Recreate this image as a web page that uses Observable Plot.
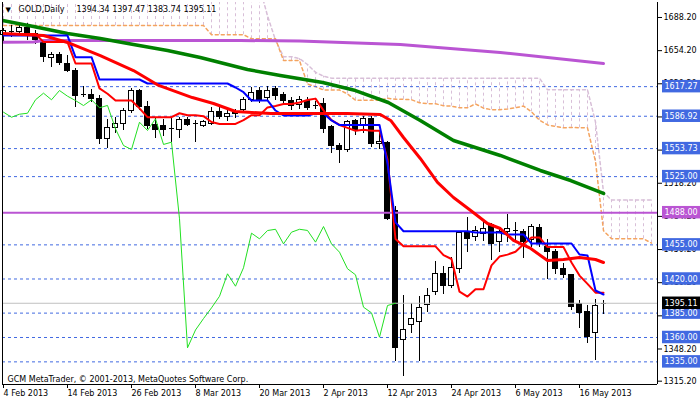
<!DOCTYPE html>
<html><head><meta charset="utf-8">
<script src="https://cdn.jsdelivr.net/npm/d3@7"></script>
<script src="https://cdn.jsdelivr.net/npm/@observablehq/plot@0.6"></script>
<style>html,body{margin:0;padding:0;background:#fff;}</style>
</head><body><div id="chart"></div>
<script>
// ---- axis labels ----
const tickBars=[0,8,16,24,32,40,48,56,64,72];
const tickLabels=["4 Feb 2013","14 Feb 2013","26 Feb 2013","8 Mar 2013","20 Mar 2013","2 Apr 2013","12 Apr 2013","24 Apr 2013","6 May 2013","16 May 2013"];
const priceTicks=[1688.2,1654.2,1620.2,1586.2,1552.2,1518.2,1484.2,1450.2,1416.2,1382.2,1348.2,1315.2];
// ---- daily candles (bar index 0 = 4 Feb 2013) ----
const open=[1670,1674,1673,1677,1671,1662.9,1646.9,1650.2,1640.7,1633.8,
1608.5,1609.2,1604.1,1563.1,1575.1,1579.2,1591.8,1612.6,1596.9,1578.4,
1577.4,1573.5,1573,1583.3,1579.8,1576.7,1579.2,1591.1,1586,1589,
1593,1603.8,1612.6,1605.8,1614.4,1608.2,1603,1598.6,1603,1597.5,
1599,1575.7,1556.9,1552.5,1581.8,1577.4,1584.3,1558,1559.3,1490,
1357.4,1373.3,1376.4,1393.8,1406.5,1425.3,1412.6,1430.5,1467,1463.5,
1466,1475,1457.8,1468,1469.5,1468,1459.5,1472.8,1452.6,1447.5,
1430.5,1424.6,1394.6,1386,1364.8,1394.34];
const high=[1677,1680,1681,1682,1675,1666,1652.6,1652.6,1649.2,1635.6,
1617.4,1614.4,1608.2,1583.6,1585.9,1595.2,1615,1614,1602,1584.3,
1583.3,1584.3,1586,1586,1582.6,1582.6,1596.2,1596.9,1593,1594,
1606,1616,1616,1617,1617.5,1611,1606,1607,1606,1602,
1605,1577.4,1559.2,1582.6,1584,1586.9,1587,1569,1561,1494,
1403,1394.9,1402,1409.9,1437.9,1432.8,1442.4,1468,1483.4,1473.4,
1478,1477,1471.8,1486.2,1478.2,1470.7,1475.9,1475.9,1460.2,1450.2,
1436,1425,1397.9,1392.8,1398.7,1397.47];
const low=[1664,1668,1669,1665,1660,1642.4,1637.2,1639,1632.1,1596.2,
1606.5,1601,1557.6,1553.5,1568.9,1572.3,1589.4,1593,1573,1563.8,
1566,1560.3,1563.8,1576.4,1560.3,1575,1577.4,1583.3,1582,1585,
1590,1601,1600,1603,1603,1598,1593,1594,1593,1594,
1569,1548.2,1538.7,1550,1567,1568.9,1554.6,1553,1480,1335.7,
1320,1364.4,1335.7,1385.3,1403,1403.8,1410,1425.3,1447.5,1458,
1458,1439,1447.5,1457,1459.5,1441,1452.6,1452.6,1419.2,1424.6,
1420.5,1387.7,1368.9,1354.2,1336.4,1383.74];
const close=[1674,1673.5,1677,1671,1665,1647.5,1650.2,1641.7,1633.8,1607.2,
1608.9,1604.1,1563.8,1575.1,1579.2,1592.1,1612.6,1596.9,1577.4,1573.3,
1572.3,1574,1582.6,1578.2,1579.4,1580.8,1591.1,1585.9,1589,1590,
1603.8,1610.6,1603.8,1613.3,1607.5,1603,1597.9,1603.8,1595.6,1598,
1574,1556.9,1552.8,1580.8,1572.3,1584.3,1558,1560.3,1481.7,1349.4,
1367.7,1379.4,1390.4,1402.3,1425.3,1412.6,1431.5,1467,1461.2,1469.7,
1471,1456,1468,1471,1469.8,1457.8,1473.8,1456,1447.5,1430.5,
1424.3,1391.1,1385.3,1360.3,1392.8,1395.11];
// ---- Ichimoku ----
const tenkan=[1671.3,1671.3,1671.3,1671.3,1671.3,1663,1663,1663,1663,1641,
1641,1641,1615.5,1610,1603,1603,1603,1595,1586,1586,
1586,1586,1590,1588,1588,1587,1581,1579,1579,1579,
1583,1588,1588,1596,1597.5,1599.5,1599.5,1601,1603.5,1605,
1593,1583,1578,1575,1572,1573,1572,1572,1542.5,1461,
1453.5,1453.5,1453.5,1453.5,1453.5,1444.5,1440.5,1407,1402,1409.5,
1409.5,1434,1443,1445,1448,1455.7,1462.6,1462.6,1452.7,1452.7,
1452.7,1437,1423.5,1415,1406,1406];
const kijun=[1669.7,1669.7,1669.7,1669.7,1669.7,1669.7,1669.7,1669.7,1669.7,1647.5,
1647.5,1647.5,1624.6,1624.6,1624.6,1624.6,1624.6,1624.6,1620.5,1620.5,
1620.5,1620.5,1620.5,1620.5,1620.5,1620.5,1620.5,1620.5,1620.5,1616.4,
1611.6,1603.1,1603.1,1603.1,1592.8,1587.7,1587.7,1587.7,1587.7,1589.7,
1589.7,1582.6,1577.9,1577.9,1577.9,1577.9,1577.9,1577.9,1538.4,1478,
1469,1469,1469,1469,1469,1469,1469,1469,1469,1467.7,
1467.7,1467.7,1467.7,1465.6,1465.6,1465.6,1456.4,1456.4,1456.4,1456.4,
1456.4,1456.4,1445.1,1444.1,1408.2,1404.1];
const spanA=[1680,1680,1680,1680,1680,1680,1680,1680,1680,1680,
1680,1680,1680,1680,1680,1680,1680,1680,1680,1680,
1680,1680,1680,1680,1680,1680,1670.5,1670.5,1670.5,1670.5,
1670.5,1666.4,1666.4,1666.4,1666.4,1644,1644,1644,1620,1617.3,
1613.8,1613.8,1613.8,1609.8,1603.3,1603.3,1603.3,1603.3,1605.3,1604.3,
1604.3,1603.8,1600.8,1599.8,1599.8,1597.7,1597.3,1595.6,1595.6,1599.6,
1595.2,1593.6,1593.6,1594.4,1595.6,1597.4,1591.4,1582.8,1578,1576.5,
1575,1575.5,1575,1575,1540.5,1469.5,1461.3,1461.3,1461.3,1461.3,
1461.3,1456.8];
const spanB=[1720,1720,1720,1720,1720,1720,1720,1720,1720,1720,
1720,1720,1720,1720,1720,1720,1720,1720,1720,1720,
1720,1720,1720,1720,1720,1720,1720,1720,1720,1720,
1720,1720,1720,1690,1665,1648,1648,1646,1640,1632,
1628,1626,1626,1626,1626,1626,1626,1626,1626,1626,
1626,1626,1626,1626,1626,1626,1626,1626,1626,1626,
1626,1626,1626,1626,1626,1626,1626,1626,1614,1614,
1614,1614,1614,1614,1581,1509,1501,1501,1501,1501,
1501,1501];
// ---- moving averages (bar position, price) ----
const maPurpleBar=[-0.125,3.75,5,29.6,37,49.6,62.1,75];
const maPurpleVal=[1662.9,1663.1,1664.6,1664.6,1664.1,1660.5,1652.3,1641.0];
const maGreenBar=[-0.125,3.75,8,12.1,16.25,20.5,24.6,30.5,34.6,39.9,44,48.1,52.1,56.25,62.1,67.1,70.9,75];
const maGreenVal=[1685.1,1679.0,1671.8,1666.7,1660.5,1654.4,1647.2,1634.9,1628.7,1621.5,1613.3,1601.0,1582.6,1562.0,1546.7,1531.3,1521.0,1507.7];
const maRedBar=[-0.125,5,8,12.1,16.25,19.4,23.6,26.25,29,33.4,38.75,43,47.1,48.4,50,52.1,54.25,56.25,58.4,60.5,62.1,63.75,65.9,68,70,72,74,75];
const maRedVal=[1671.8,1669.7,1662.6,1649.2,1633.8,1618.5,1606.1,1600.0,1591.8,1589.7,1589.7,1589.7,1588.7,1582.6,1565.1,1543.6,1519.0,1503.6,1490.2,1476.9,1471.8,1459.5,1451.3,1438.9,1440.0,1442.0,1440.0,1436.9];
// ---- horizontal levels ----
const blueLevels=[1617.27,1586.92,1553.73,1525.00,1455.00,1420.00,1385.00,1360.00,1335.00];
const purpleLevel=[1488.00];
const lastPrice=[1395.11];
const symbolText="GOLD,Daily";
const ohlcText="1394.34 1397.47 1383.74 1395.11";
const copyright="GCM MetaTrader, \u00A9 2001-2013, MetaQuotes Software Corp.";

// ---- derived tables ----
const bars=open.map((o,i)=>({i,o,h:high[i],l:low[i],c:close[i]}));
const chikou=close.slice(26).map((c,i)=>({i,c}));
const cloud=spanA.map((a,i)=>({i,a,b:spanB[i]}));
const xDom=[-0.125,81.75], yDom=[1311.79,1703.58];
const labelMap=new Map(tickBars.map((b,k)=>[b,tickLabels[k]]));
const bw=0.3125;
const boxX1=82.375, boxX2=87.3, boxH=6.4;
const fnt="DejaVu Sans";

const chart=Plot.plot({
  width:700,height:402,marginTop:2,marginBottom:18,marginLeft:2,marginRight:43,
  x:{type:"linear",domain:xDom},
  y:{type:"linear",domain:yDom},
  style:{fontFamily:fnt,fontSize:"8px",background:"#fff",color:"#000"},
  marks:[
    Plot.ruleX(cloud.filter(d=>d.b>=d.a),{x:"i",y1:"a",y2:"b",stroke:"#D8BFD8",strokeDasharray:"3,3",clip:true}),
    Plot.ruleX(cloud.filter(d=>d.b<d.a),{x:"i",y1:"a",y2:"b",stroke:"#F4A460",strokeDasharray:"3,3",clip:true}),
    Plot.line(cloud,{x:"i",y:"b",stroke:"#D8BFD8",strokeDasharray:"3,3",clip:true}),
    Plot.line(cloud,{x:"i",y:"a",stroke:"#F4A460",strokeDasharray:"3,3",clip:true}),
    Plot.ruleY(blueLevels,{stroke:"#4169E1",strokeDasharray:"3,3"}),
    Plot.ruleX(bars,{x:"i",y1:"l",y2:"h",stroke:"#000",shapeRendering:"crispEdges"}),
    Plot.rect(bars.filter(d=>Math.abs(d.o-d.c)>=1),{x1:d=>d.i-bw,x2:d=>d.i+bw,y1:d=>Math.min(d.o,d.c),y2:d=>Math.max(d.o,d.c),
      fill:d=>d.c>=d.o?"#fff":"#000",stroke:"#000",shapeRendering:"crispEdges"}),
    Plot.ruleY(bars.filter(d=>Math.abs(d.o-d.c)<1),{y:"c",x1:d=>d.i-bw,x2:d=>d.i+bw,stroke:"#000",shapeRendering:"crispEdges"}),
    Plot.ruleY(purpleLevel,{stroke:"#BA55D3",strokeWidth:2}),
    Plot.ruleY(lastPrice,{stroke:"#C0C0C0"}),
    Plot.line(chikou,{x:"i",y:"c",stroke:"#22E022",strokeWidth:1}),
    Plot.line(maPurpleBar.map((b,k)=>({b,v:maPurpleVal[k]})),{x:"b",y:"v",stroke:"#BA55D3",strokeWidth:3,clip:true}),
    Plot.line(maGreenBar.map((b,k)=>({b,v:maGreenVal[k]})),{x:"b",y:"v",stroke:"#008000",strokeWidth:3.5,clip:true}),
    Plot.line(tenkan.map((v,i)=>({i,v})),{x:"i",y:"v",stroke:"#FF0000",strokeWidth:2}),
    Plot.line(kijun.map((v,i)=>({i,v})),{x:"i",y:"v",stroke:"#0000FF",strokeWidth:2}),
    Plot.line(maRedBar.map((b,k)=>({b,v:maRedVal[k]})),{x:"b",y:"v",stroke:"#FF0000",strokeWidth:3,clip:true}),
    Plot.ruleX([xDom[0],xDom[1]],{stroke:"#000"}),
    Plot.ruleY([yDom[0]],{stroke:"#000"}),
    Plot.axisX(tickBars,{anchor:"bottom",tickSize:4,tickPadding:2,textAnchor:"start",tickFormat:d=>labelMap.get(d),fontSize:8}),
    Plot.axisY(priceTicks,{anchor:"right",tickSize:4,tickPadding:2,tickFormat:d=>d.toFixed(2),fontSize:8}),
    Plot.rect(blueLevels,{x1:boxX1,x2:boxX2,y1:d=>d-boxH,y2:d=>d+boxH,fill:"#4169E1"}),
    Plot.text(blueLevels,{x:boxX1,y:d=>d,text:d=>d.toFixed(2),fill:"#fff",textAnchor:"start",dx:2}),
    Plot.rect(purpleLevel,{x1:boxX1,x2:boxX2,y1:d=>d-boxH,y2:d=>d+boxH,fill:"#BA55D3"}),
    Plot.text(purpleLevel,{x:boxX1,y:d=>d,text:d=>d.toFixed(2),fill:"#fff",textAnchor:"start",dx:2}),
    Plot.rect(lastPrice,{x1:boxX1,x2:boxX2,y1:d=>d-boxH,y2:d=>d+boxH,fill:"#000"}),
    Plot.text(lastPrice,{x:boxX1,y:d=>d,text:d=>d.toFixed(2),fill:"#fff",textAnchor:"start",dx:2}),
    Plot.text(["\u25BC"],{frameAnchor:"top-left",dx:3,dy:5,fontSize:7,textAnchor:"start",lineAnchor:"top"}),
    Plot.text([symbolText],{frameAnchor:"top-left",dx:16,dy:4,textAnchor:"start",lineAnchor:"top"}),
    Plot.text([ohlcText],{frameAnchor:"top-left",dx:74,dy:4,textAnchor:"start",lineAnchor:"top"}),
    Plot.text([copyright],{frameAnchor:"bottom-left",dx:5,dy:-3,textAnchor:"start",lineAnchor:"bottom"})
  ]
});
document.getElementById("chart").appendChild(chart);
</script>
</body></html>
